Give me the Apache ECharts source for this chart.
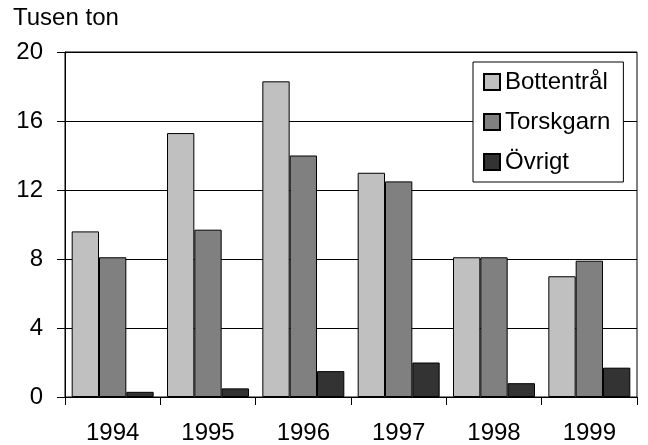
<!DOCTYPE html>
<html><head><meta charset="utf-8">
<script src="https://cdn.jsdelivr.net/npm/echarts@6/dist/echarts.min.js"></script>
<style>html,body{margin:0;padding:0;background:#fff}#c{width:648px;height:445px}</style>
</head><body><div id="c"></div>
<script>
const years = ['1994','1995','1996','1997','1998','1999'];
const bottentral = [9.6, 15.3, 18.3, 13.0, 8.1, 7.0];
const torskgarn = [8.1, 9.7, 14.0, 12.5, 8.1, 7.9];
const ovrigt = [0.3, 0.5, 1.5, 2.0, 0.8, 1.7];
const seriesNames = ['Bottentrål', 'Torskgarn', 'Övrigt'];
const unitLabel = 'Tusen ton';

const FONT = '"Liberation Sans", Arial, sans-serif';
const chart = echarts.init(document.getElementById('c'), null, {renderer: 'canvas'});
const mk = (name, data, color) => ({
  name, type: 'bar', data, barGap: '0%', barCategoryGap: '14%',
  itemStyle: {color, borderColor: '#000', borderWidth: 1},
  emphasis: {disabled: true}
});
chart.setOption({
  animation: false,
  backgroundColor: '#fff',
  textStyle: {fontFamily: FONT},
  graphic: [{type: 'text', left: 13, top: 6, style: {text: unitLabel, font: '24px ' + FONT, fill: '#000'}}],
  grid: {left: 65, right: 11, top: 52, bottom: 47, show: true, borderColor: '#000', borderWidth: 1, backgroundColor: 'transparent'},
  legend: {
    orient: 'vertical', left: 473, top: 62,
    padding: [8, 13, 8, 10], itemGap: 16, itemWidth: 16, itemHeight: 16, itemTextGap: 7,
    backgroundColor: '#fff', borderColor: '#000', borderWidth: 1,
    icon: 'rect',
    textStyle: {fontSize: 24, lineHeight: 24, color: '#000', fontFamily: FONT},
    data: seriesNames
  },
  xAxis: {
    type: 'category', data: years,
    axisLine: {lineStyle: {color: '#000', width: 1}},
    axisTick: {show: true, length: 8, lineStyle: {color: '#000'}},
    axisLabel: {color: '#000', fontSize: 24, margin: 24, fontFamily: FONT}
  },
  yAxis: {
    type: 'value', min: 0, max: 20, interval: 4,
    axisLine: {show: true, lineStyle: {color: '#000', width: 1}},
    axisTick: {show: true, length: 8, lineStyle: {color: '#000'}},
    splitLine: {lineStyle: {color: '#000', width: 1}},
    axisLabel: {color: '#000', fontSize: 24, margin: 22, fontFamily: FONT}
  },
  series: [
    mk(seriesNames[0], bottentral, '#c0c0c0'),
    mk(seriesNames[1], torskgarn, '#808080'),
    mk(seriesNames[2], ovrigt, '#333333')
  ]
});
</script></body></html>
